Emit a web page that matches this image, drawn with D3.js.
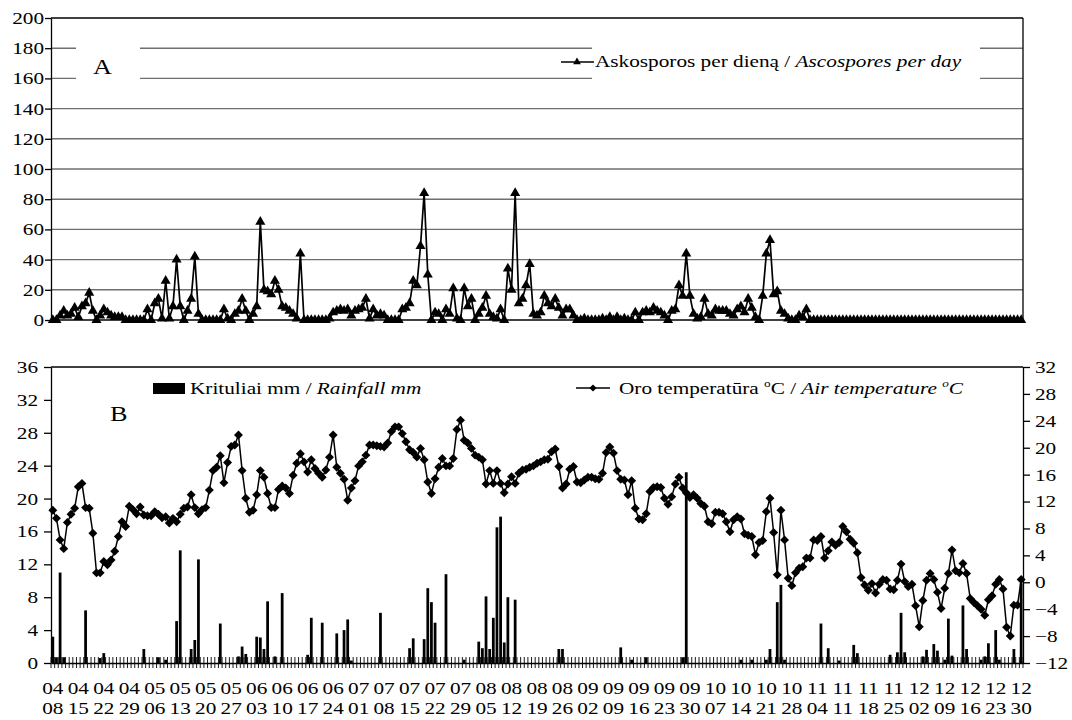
<!DOCTYPE html>
<html><head><meta charset="utf-8">
<script src="https://cdn.jsdelivr.net/npm/d3@7"></script>
<style>
body{margin:0;background:#fff}
svg{display:block}
text{font-family:"Liberation Serif","Times New Roman",serif;fill:#000}
</style>
</head><body>
<svg id="c" width="1072" height="720"></svg>
<script>
// ---------- DATA ----------
const monthRanges = [["04",8,30],["05",1,31],["06",1,30],["07",1,31],["08",1,31],["09",1,30],["10",1,31],["11",1,30],["12",1,30]];
const categories = monthRanges.flatMap(([m,a,b]) => d3.range(a,b+1).map(d => m+"-"+String(d).padStart(2,"0")));

const tickMonths = ["04","04","04","04","05","05","05","05","06","06","06","06","07","07","07","07","07","08","08","08","08","09","09","09","09","09","10","10","10","10","11","11","11","11","12","12","12","12","12"];
const tickDays   = ["08","15","22","29","06","13","20","27","03","10","17","24","01","08","15","22","29","05","12","19","26","02","09","16","23","30","07","14","21","28","04","11","18","25","02","09","16","23","30"];

const ascospores = [
0,0,3,6,3,4,8,2,9,11,
18,6,0,3,7,5,3,2,2,2,
0,0,0,0,0,0,7,0,11,14,
1,26,1,9,40,9,0,6,14,42,
4,0,0,0,0,0,0,7,1,0,
4,6,14,6,0,4,9,65,20,19,
17,26,20,9,8,6,4,1,44,0,
0,0,0,0,0,0,1,5,6,7,
6,7,3,6,7,8,14,1,7,3,
4,3,0,0,0,0,7,8,11,26,
23,49,84,30,0,5,4,0,7,4,
21,1,0,21,9,14,0,4,8,16,
4,2,1,7,0,34,20,84,11,14,
23,37,4,3,5,16,11,9,14,8,
3,7,7,3,0,0,1,0,0,0,
0,1,0,2,0,2,0,1,0,0,
5,0,5,6,5,8,6,5,3,0,
6,7,23,16,44,16,4,1,2,14,
4,3,7,6,6,6,4,3,7,9,
5,14,8,2,0,16,44,53,17,19,
6,4,1,0,0,3,2,7,0,0,
0,0,0,0,0,0,0,0,0,0,
0,0,0,0,0,0,0,0,0,0,
0,0,0,0,0,0,0,0,0,0,
0,0,0,0,0,0,0,0,0,0,
0,0,0,0,0,0,0,0,0,0,
0,0,0,0,0,0,0];

const temperature = [
10.7,9.5,6.3,5.0,8.9,10.1,11.0,14.2,14.7,11.1,
11.0,7.3,1.4,1.4,3.1,2.6,3.3,4.6,6.8,9.0,
8.3,11.3,10.8,10.2,11.2,10.0,9.9,9.9,10.5,10.1,
9.6,9.75,8.8,9.5,9.0,10.1,11.0,11.2,13.0,11.1,
10.2,10.8,11.1,13.7,16.6,17.1,18.8,14.8,17.8,20.2,
20.4,21.9,16.6,12.5,10.4,10.7,13.0,16.6,15.6,13.2,
11.1,11.1,13.8,14.3,14.0,13.2,15.9,17.7,19.1,17.9,
16.4,18.2,16.9,16.2,15.6,16.7,18.6,21.9,17.1,16.2,
15.3,12.2,14.0,15.1,17.3,17.9,18.9,20.4,20.4,20.3,
20.2,20.1,20.7,22.4,23.1,23.1,22.1,20.9,19.7,19.3,
18.6,19.9,18.2,14.9,13.2,15.4,17.1,18.4,17.3,17.3,
18.4,22.7,24.1,21.1,20.7,19.9,18.9,18.6,18.2,14.6,
16.6,14.7,16.6,14.7,13.3,14.6,15.7,14.7,16.2,16.7,
16.8,17.1,17.3,17.7,17.9,18.2,18.3,19.4,19.8,17.2,
14.0,14.6,16.8,17.2,14.9,14.8,15.2,15.6,15.6,15.4,
15.3,16.2,19.3,20.1,19.2,16.6,15.3,15.2,13.0,15.1,
11.0,9.4,9.3,10.2,13.5,14.1,14.2,14.1,12.5,11.6,
12.7,14.6,15.6,14.0,13.3,12.6,13.0,12.5,11.7,11.3,
9.0,8.7,10.4,10.4,10.2,9.0,7.5,9.3,9.75,9.4,
7.2,7.0,6.8,4.1,5.9,6.2,10.5,12.5,7.4,1.1,
10.7,6.3,0.6,-0.5,1.4,2.1,2.3,3.6,3.6,6.3,
6.2,6.8,3.6,4.7,6.0,5.5,5.9,8.3,7.5,6.4,
5.8,4.4,0.7,-0.4,-1.2,-0.2,-1.6,-0.3,0.4,0.3,
-1.0,-1.1,0.3,2.7,0.1,-0.65,-0.3,-3.5,-6.6,-2.7,
0.3,1.3,0.4,-1.5,-3.9,-0.9,1.3,4.8,1.7,1.4,
2.8,1.3,-2.4,-3.0,-3.5,-4.0,-4.9,-2.6,-2.0,-0.3,
0.4,-1.0,-6.7,-8.0,-3.4,-3.4,0.4];

const rainfall = [
3.2,0.7,11.0,0.7,0,0,0,0,0,6.4,
0,0,0,0.6,1.2,0,0,0,0,0,
0,0,0,0,0,1.7,0,0,0,0.7,
0,0.4,0,0,5.1,13.7,0,0,1.7,2.8,
12.6,0,0,0,0,0,4.8,0,0,0,
0,0.8,2.0,1.1,0,0,3.2,3.1,1.7,7.5,
0,0.8,0,8.5,0,0,0,0,0,0,
1.0,5.5,0,0,4.9,0,0,0,3.6,0,
4.0,5.3,0.3,0,0,0,0,0,0,0,
6.1,0,0,0,0,0,0,0,1.8,3.0,
0,0,2.9,9.1,7.4,4.9,0,0,10.8,0,
0,0,0,0.4,0,0,0,2.6,1.8,8.1,
1.7,5.5,16.5,17.8,2.5,8.0,0,7.7,0,0,
0,0,0,0,0,0,0,0,0,1.7,
1.7,0,0,0,0,0,0,0,0,0,
0,0,0,0,0,0,1.9,0,0,0.4,
0,0,0,0.7,0,0,0,0,0,0,
0,0,0,0.7,23.2,0,0,0,0,0,
0,0,0,0,0,0,0,0,0,0.4,
0,0,0.4,0,0,0,0.4,1.7,0,7.4,
9.5,0.4,0,0,0,0,0,0,0,0,
0,4.8,0,1.8,0,0,0.3,0,0,0,
2.2,1.2,0,0,0,0,0,0,0,0,
1.0,0,1.3,6.1,1.3,0,0,0,0,0.8,
1.6,0,2.3,1.5,0,0.4,5.4,0.9,0,0,
7.0,1.7,0,0,0,0.4,0.8,2.4,0,4.0,
0.4,0,0,0,1.7,0,9.7];

const ticksA = [0,20,40,60,80,100,120,140,160,180,200];
const ticksBL = [0,4,8,12,16,20,24,28,32,36];
const ticksBR = [-12,-8,-4,0,4,8,12,16,20,24,28,32];

// ---------- LAYOUT ----------
const SX = 1.25;      // horizontal stretch of glyphs in the reference
const FS = 17;
const L = 51, R = 1023;
const svg = d3.select("#c");

const x = d3.scaleBand().domain(categories).range([L, R]).padding(0);
const bw = x.bandwidth();
const cx = c => x(c) + bw / 2;

const yA = d3.scaleLinear().domain([0, 200]).range([320, 18]);
const yL = d3.scaleLinear().domain([0, 36]).range([663, 367]);
const yR = d3.scaleLinear().domain([-12, 32]).range([663, 367]);

function label(g, px, py, anchor, parts, size) {
  const t = g.append("text")
    .attr("transform", `translate(${px},${py}) scale(${SX},1)`)
    .attr("text-anchor", anchor)
    .attr("font-size", size);
  let shifted = false;
  parts.forEach(p => {
    const s = t.append("tspan").text(p.t);
    if (p.i) s.attr("font-style", "italic");
    if (p.sup) { s.attr("font-size", size * 0.62).attr("dy", -7); shifted = true; }
    else if (shifted) { s.attr("dy", 7); shifted = false; }
  });
  return t;
}

function styleAxis(g, dx, anchor) {
  g.select(".domain").attr("stroke", "#000").attr("stroke-width", 1.3);
  g.selectAll(".tick line").attr("stroke", "#000").attr("stroke-width", 1.3);
  g.selectAll(".tick text")
    .attr("font-family", "Liberation Serif, Times New Roman, serif")
    .attr("font-size", FS)
    .attr("fill", "#000")
    .attr("text-anchor", anchor)
    .attr("transform", `scale(${SX},1)`)
    .attr("x", dx / SX);
}

// ---------- PANEL A ----------
const gA = svg.append("g");
gA.selectAll("line.grid").data(ticksA.filter(d => d > 0 && d < 200)).join("line")
  .attr("x1", L).attr("x2", R)
  .attr("y1", d => yA(d)).attr("y2", d => yA(d))
  .attr("stroke", "#6f6f6f").attr("stroke-width", 1.4);
gA.append("line").attr("x1", L).attr("x2", R).attr("y1", yA(200)).attr("y2", yA(200)).attr("stroke", "#000").attr("stroke-width", 1.3);
gA.append("line").attr("x1", R).attr("x2", R).attr("y1", yA(200)).attr("y2", yA(0)).attr("stroke", "#000").attr("stroke-width", 1.3);
gA.append("line").attr("x1", L).attr("x2", R).attr("y1", yA(0)).attr("y2", yA(0)).attr("stroke", "#000").attr("stroke-width", 1.3);

gA.append("g").attr("transform", `translate(${L},0)`)
  .call(d3.axisLeft(yA).tickValues(ticksA).tickSize(6).tickSizeOuter(0))
  .call(g => styleAxis(g, -7, "end"));

// label boxes
gA.append("rect").attr("x", 76).attr("y", 42).attr("width", 64).attr("height", 44).attr("fill", "#fff");
gA.append("rect").attr("x", 592).attr("y", 42).attr("width", 388).attr("height", 44).attr("fill", "#fff");
label(gA, 93, 74, "start", [{t: "A"}], 21);

const lineA = d3.line().x((d, i) => cx(categories[i])).y(d => yA(d));
gA.append("path").datum(ascospores).attr("d", lineA)
  .attr("fill", "none").attr("stroke", "#000").attr("stroke-width", 1.7);
const tri = d3.symbol(d3.symbolTriangle, 44)();
gA.selectAll("path.tri").data(ascospores).join("path")
  .attr("d", tri)
  .attr("transform", (d, i) => `translate(${cx(categories[i])},${yA(d)})`)
  .attr("fill", "#000");

// legend A
gA.append("line").attr("x1", 561).attr("x2", 594).attr("y1", 62).attr("y2", 62).attr("stroke", "#000").attr("stroke-width", 1.5);
gA.append("path").attr("d", d3.symbol(d3.symbolTriangle, 26)()).attr("transform", "translate(577,62)").attr("fill", "#000");
label(gA, 595, 67, "start", [{t: "Askosporos per dieną / "}, {t: "Ascospores per day", i: true}], FS);

// ---------- PANEL B ----------
const gB = svg.append("g");
gB.append("line").attr("x1", L).attr("x2", R).attr("y1", yL(36)).attr("y2", yL(36)).attr("stroke", "#000").attr("stroke-width", 1.3);

gB.append("g").attr("transform", `translate(${L},0)`)
  .call(d3.axisLeft(yL).tickValues(ticksBL).tickSize(7).tickSizeOuter(0))
  .call(g => styleAxis(g, -13, "end"));
gB.append("g").attr("transform", `translate(${R},0)`)
  .call(d3.axisRight(yR).tickValues(ticksBR).tickSize(7).tickSizeOuter(0))
  .call(g => styleAxis(g, 12, "start"));

// bars
gB.selectAll("rect.bar").data(rainfall.map((v, i) => ({v, c: categories[i]})).filter(d => d.v > 0)).join("rect")
  .attr("x", d => x(d.c) + bw * 0.12)
  .attr("width", bw * 0.76)
  .attr("y", d => yL(d.v))
  .attr("height", d => yL(0) - yL(d.v))
  .attr("fill", "#000");

// category axis with cross ticks
gB.append("g").attr("transform", `translate(0,${yL(0)})`)
  .call(d3.axisBottom(x).tickValues([]).tickSize(0).tickSizeOuter(0))
  .call(g => g.select(".domain").attr("stroke", "#000").attr("stroke-width", 1.3));
const bounds = categories.map(c => x(c)).concat([R]);
gB.selectAll("line.ct").data(bounds).join("line")
  .attr("x1", d => d).attr("x2", d => d)
  .attr("y1", yL(0) - 6).attr("y2", yL(0) + 5)
  .attr("stroke", "#000").attr("stroke-width", 0.9);

// temperature line
const lineB = d3.line().x((d, i) => cx(categories[i])).y(d => yR(d));
gB.append("path").datum(temperature).attr("d", lineB)
  .attr("fill", "none").attr("stroke", "#000").attr("stroke-width", 1.5);
const dia = d3.symbol(d3.symbolSquare, 40)();
gB.selectAll("path.dia").data(temperature).join("path")
  .attr("d", dia)
  .attr("transform", (d, i) => `translate(${cx(categories[i])},${yR(d)}) rotate(45)`)
  .attr("fill", "#000");

// x labels
const tickCats = tickMonths.map((m, k) => m + "-" + tickDays[k]);
tickCats.forEach((c, k) => {
  label(gB, cx(c), 694, "middle", [{t: tickMonths[k]}], FS);
  label(gB, cx(c), 714, "middle", [{t: tickDays[k]}], FS);
});

label(gB, 110, 421, "start", [{t: "B"}], 21);

// legend B
gB.append("rect").attr("x", 153).attr("y", 383).attr("width", 32).attr("height", 11).attr("fill", "#000");
label(gB, 190, 394, "start", [{t: "Krituliai mm / "}, {t: "Rainfall mm", i: true}], FS);
gB.append("line").attr("x1", 576).attr("x2", 610).attr("y1", 388).attr("y2", 388).attr("stroke", "#000").attr("stroke-width", 1.5);
gB.append("path").attr("d", d3.symbol(d3.symbolSquare, 26)()).attr("transform", "translate(593,388) rotate(45)").attr("fill", "#000");
label(gB, 619, 394, "start", [
  {t: "Oro temperatūra "}, {t: "o", sup: true}, {t: "C / "},
  {t: "Air temperature ", i: true}, {t: "o", sup: true, i: true}, {t: "C", i: true}
], FS);
</script>
</body></html>
